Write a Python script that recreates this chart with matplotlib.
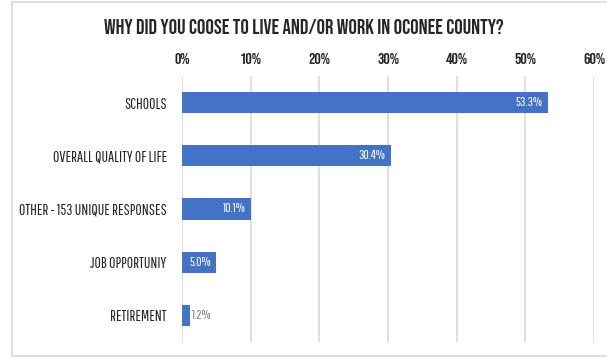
import matplotlib.pyplot as plt
from matplotlib.patches import Rectangle

# condensed display faces, DejaVu as fallback
TITLE_FONT = ['Bebas Neue', 'DejaVu Sans']
LABEL_FONT = ['Pathway Gothic One', 'DejaVu Sans']
plt.rcParams['font.family'] = LABEL_FONT

# data
reasons = ['SCHOOLS', 'OVERALL QUALITY OF LIFE', 'OTHER - 153 UNIQUE RESPONSES',
           'JOB OPPORTUNIY', 'RETIREMENT']
shares = [53.3, 30.4, 10.1, 5.0, 1.2]
ticks = [0, 10, 20, 30, 40, 50, 60]
tick_labels = ['0%', '10%', '20%', '30%', '40%', '50%', '60%']

bar_color = '#4472C4'
text_color = '#262626'

fig = plt.figure(figsize=(6.07, 3.57), dpi=100)
fig.patch.set_facecolor('white')

# light frame around the chart (right side runs off the canvas)
fig.add_artist(Rectangle((12 / 607, 1 / 357), 640 / 607, 354 / 357,
                         transform=fig.transFigure, fill=False,
                         edgecolor='#d9d9d9', linewidth=1.2))

ax = fig.add_axes([182 / 607, 15 / 357, 412 / 607, 266 / 357])
y = range(len(reasons))
ax.barh(y, shares, height=0.4, color=bar_color, zorder=3)

ax.set_xlim(0, 60)
ax.set_ylim(len(reasons) - 0.5, -0.5)
ax.set_xticks(ticks)
ax.set_xticklabels(tick_labels, family=TITLE_FONT)
ax.xaxis.tick_top()
ax.tick_params(axis='x', length=0, pad=9, labelsize=11.5, labelcolor=text_color)
ax.set_yticks(list(y))
ax.set_yticklabels(reasons)
ax.tick_params(axis='y', length=0, pad=11, labelsize=11.2, labelcolor=text_color)
ax.grid(axis='x', color='#d9d9d9', linewidth=1.2, zorder=0)
for s in ax.spines.values():
    s.set_visible(False)

# value labels
for i, v in enumerate(shares):
    if v >= 5:
        ax.annotate(f'{v:.1f}%', (v, i), xytext=(-4, 0), textcoords='offset points',
                    ha='right', va='center', color='white', fontsize=9.5, zorder=4)
    else:
        ax.annotate(f'{v:.1f}%', (v, i), xytext=(1, 0), textcoords='offset points',
                    ha='left', va='center', color='#7f7f7f', fontsize=9.5, zorder=4)

fig.text(0.5, 1 - 27 / 357, 'WHY DID YOU COOSE TO LIVE AND/OR WORK IN OCONEE COUNTY?',
         ha='center', va='center', fontsize=15, color=text_color, family=TITLE_FONT)

fig.savefig('out.png', dpi=100)
